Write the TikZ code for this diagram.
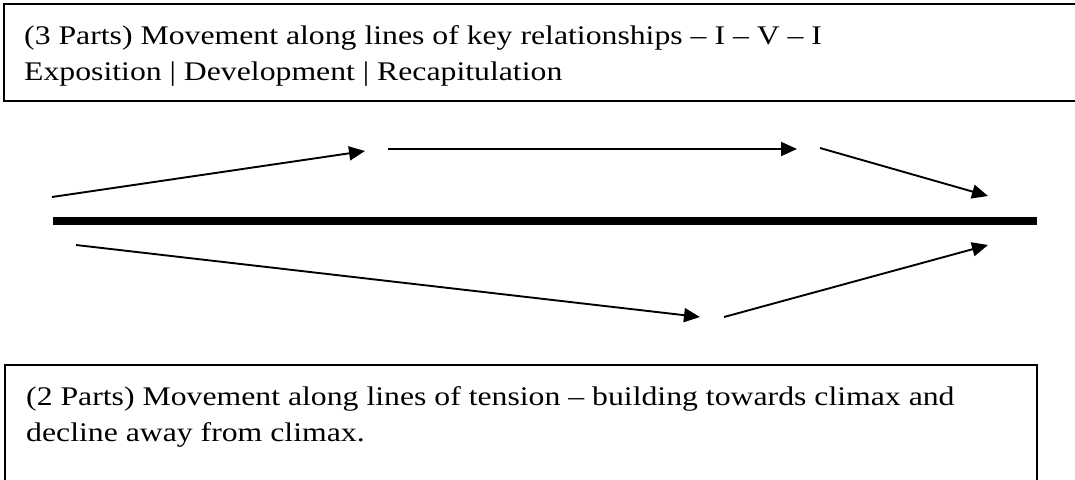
\documentclass[tikz,border=0pt]{standalone}
\usepackage{fontspec}
\setmainfont[FakeStretch=1.18]{Liberation Serif}
\usepackage{tikz}
\usetikzlibrary{arrows.meta}

\tikzset{
  notebox/.style={draw=black,line width=2pt},
  notetext/.style={anchor=base west,align=left,inner sep=0pt,
    font=\fontsize{26.9}{36}\selectfont},
  moveline/.style={line width=1.9pt,-{Triangle[length=16pt,width=14pt]}},
}

\begin{document}
\begin{tikzpicture}[x=1pt,y=-1pt]
  \useasboundingbox (0,0) rectangle (1075,479);
  % boxes
  \draw[notebox] (4,4) rectangle (1090,101);
  \draw[notebox] (5,365) rectangle (1037,495);
  \node[notetext] (three) at (24,80)
    {(3 Parts) Movement along lines of key relationships -- I -- V -- I\\
     Exposition | Development | Recapitulation};
  \node[notetext] (two) at (26,441)
    {(2 Parts) Movement along lines of tension -- building towards climax and\\
     decline away from climax.};
  % the axis
  \coordinate (axisL) at (53,221);
  \coordinate (axisR) at (1037,221);
  \draw[line width=8pt] (axisL) -- (axisR);
  % upper path: I - V - I
  \coordinate (u0) at (52,197);
  \coordinate (u1) at (365,151);
  \coordinate (u2) at (388,149);
  \coordinate (u3) at (797,149);
  \coordinate (u4) at (820,148);
  \coordinate (u5) at (988,196);
  \draw[moveline] (u0) -- (u1);
  \draw[moveline] (u2) -- (u3);
  \draw[moveline] (u4) -- (u5);
  % lower path: towards climax and away
  \coordinate (d0) at (76,245);
  \coordinate (d1) at (700,317);
  \coordinate (d2) at (724,317);
  \coordinate (d3) at (988,245);
  \draw[moveline] (d0) -- (d1);
  \draw[moveline] (d2) -- (d3);
\end{tikzpicture}
\end{document}
